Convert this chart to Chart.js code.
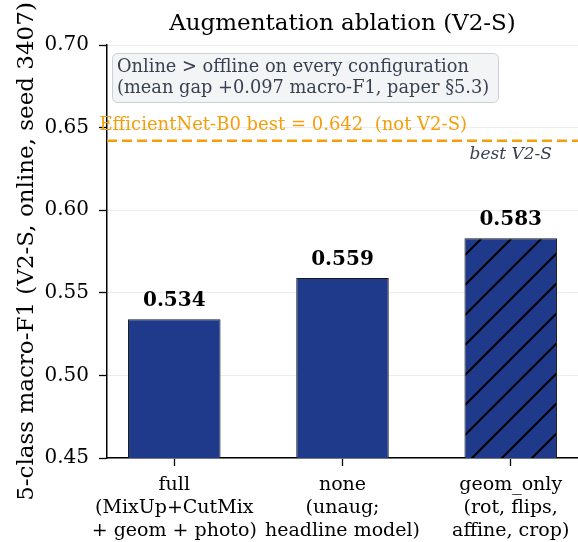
<!DOCTYPE html>
<html>
<head>
<meta charset="utf-8">
<script src="https://cdn.jsdelivr.net/npm/chart.js@4.4.1/dist/chart.umd.min.js"></script>
<style>
  html, body { margin: 0; padding: 0; background: #fff; overflow: hidden; }
  canvas { display: block; }
</style>
</head>
<body>
<canvas id="chart" width="578" height="542"></canvas>
<script>
// Data
const categories = [
    ['full', '(MixUp+CutMix', '+ geom + photo)'],
    ['none', '(unaug;', 'headline model)'],
    ['geom_only', '(rot, flips,', 'affine, crop)']
];
const macroF1 = [0.534, 0.559, 0.583];
const yTicks = [0.45, 0.50, 0.55, 0.60, 0.65, 0.70];
const effNetBest = 0.642;

const SERIF = '"DejaVu Serif", serif';
const BAR_BLUE = '#1f3a8a';

// diagonal hatch for the geom_only bar
function hatch(color) {
    const s = 30;
    const c = document.createElement('canvas');
    c.width = s; c.height = s;
    const g = c.getContext('2d');
    g.fillStyle = color;
    g.fillRect(0, 0, s, s);
    g.strokeStyle = '#000';
    g.lineWidth = 2;
    g.beginPath();
    g.moveTo(-3, s + 3); g.lineTo(s + 3, -3);
    g.moveTo(-3, 3); g.lineTo(3, -3);
    g.moveTo(s - 3, s + 3); g.lineTo(s + 3, s - 3);
    g.stroke();
    return g.createPattern(c, 'repeat');
}

const ctx = document.getElementById('chart').getContext('2d');
const barColors = macroF1.map((v, i) => i === 2 ? hatch(BAR_BLUE) : BAR_BLUE);

// Text annotations drawn on top
const annotations = {
    id: 'annotations',
    afterDatasetsDraw(chart) {
        const { ctx, chartArea, scales: { x, y } } = chart;
        ctx.save();

        // value labels
        ctx.font = 'bold 20px ' + SERIF;
        ctx.fillStyle = '#000';
        ctx.textAlign = 'center';
        ctx.textBaseline = 'alphabetic';
        macroF1.forEach((v, i) => {
            ctx.fillText(v.toFixed(3), x.getPixelForValue(i), y.getPixelForValue(v) - 13);
        });

        // EfficientNet reference label
        ctx.font = '18px ' + SERIF;
        ctx.fillStyle = '#f59e0b';
        ctx.textAlign = 'left';
        ctx.fillText('EfficientNet-B0 best = 0.642  (not V2-S)', x.getPixelForValue(-0.445), y.getPixelForValue(effNetBest) - 11);

        ctx.font = 'italic 17px ' + SERIF;
        ctx.fillStyle = '#374151';
        ctx.textAlign = 'center';
        ctx.textBaseline = 'middle';
        ctx.fillText('best V2-S', x.getPixelForValue(2), y.getPixelForValue(effNetBest) + 14);

        // info box
        const bx = chartArea.left + 5, by = chartArea.top + 8, bw = 386, bh = 49;
        ctx.beginPath();
        ctx.roundRect(bx + 0.5, by + 0.5, bw, bh, 5);
        ctx.fillStyle = '#f3f4f6';
        ctx.fill();
        ctx.strokeStyle = '#cbd0d6';
        ctx.lineWidth = 1;
        ctx.stroke();
        ctx.font = '17.8px ' + SERIF;
        ctx.fillStyle = '#374151';
        ctx.textAlign = 'left';
        ctx.textBaseline = 'middle';
        ctx.fillText('Online > offline on every configuration', bx + 5, by + 14);
        ctx.fillText('(mean gap +0.097 macro-F1, paper \u00a75.3)', bx + 5, by + 35);

        ctx.restore();
    }
};

new Chart(ctx, {
    type: 'bar',
    data: {
        datasets: [{
            type: 'line',
            data: [{ x: -0.4, y: effNetBest }, { x: 2.4, y: effNetBest }],
            borderColor: '#f59e0b',
            borderWidth: 2.5,
            borderDash: [10, 5],
            pointRadius: 0,
            order: 0
        }, {
            type: 'bar',
            data: macroF1.map((v, i) => ({ x: i, y: v })),
            backgroundColor: barColors,
            borderColor: '#1a1a1a',
            borderWidth: 1,
            borderSkipped: false,
            categoryPercentage: 1,
            barPercentage: 0.55,
            order: 1
        }]
    },
    options: {
        responsive: false,
        animation: false,
        layout: { padding: 0 },
        plugins: {
            legend: { display: false },
            tooltip: { enabled: false },
            title: {
                display: true,
                text: 'Augmentation ablation (V2-S)',
                fullSize: false,
                color: '#000',
                font: { family: SERIF, size: 23, weight: 'normal', lineHeight: 1.2 },
                padding: { top: 10, bottom: 7.4 }
            }
        },
        scales: {
            x: {
                type: 'linear',
                offset: false,
                min: -0.4,
                max: 2.4,
                afterBuildTicks: (scale) => { scale.ticks = categories.map((c, i) => ({ value: i })); },
                afterFit: (scale) => { scale.height = 84; },
                ticks: {
                    callback: (value) => categories[value],
                    color: '#000',
                    font: { family: SERIF, size: 19, lineHeight: 1.22 },
                    padding: 7,
                    maxRotation: 0,
                    autoSkip: false
                },
                grid: { offset: false, drawOnChartArea: false, tickColor: '#000', tickLength: 8, tickWidth: 1.3 },
                border: { display: true, color: '#000', width: 1.5 }
            },
            y: {
                min: 0.45,
                max: 0.70,
                afterBuildTicks: (scale) => { scale.ticks = yTicks.map(v => ({ value: v })); },
                afterFit: (scale) => { scale.width = 107; },
                ticks: {
                    callback: (value) => value.toFixed(2),
                    color: '#000',
                    font: { family: SERIF, size: 20 },
                    padding: 10
                },
                grid: { color: '#ececec', lineWidth: 1, tickColor: '#000', tickLength: 8, tickWidth: 1.3 },
                border: { display: true, color: '#000', width: 1.5 },
                title: {
                    display: true,
                    text: '5-class macro-F1 (V2-S, online, seed 3407)',
                    color: '#000',
                    font: { family: SERIF, size: 23 },
                    padding: { top: 13, bottom: 0 }
                }
            }
        }
    },
    plugins: [annotations]
});
</script>
</body>
</html>
